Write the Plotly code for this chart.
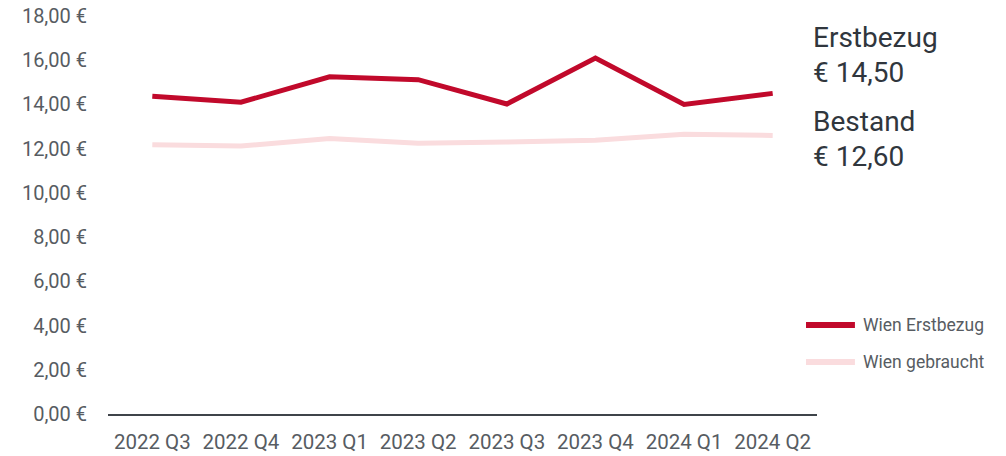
import plotly.graph_objects as go

quarters = ["2022 Q3", "2022 Q4", "2023 Q1", "2023 Q2", "2023 Q3", "2023 Q4", "2024 Q1", "2024 Q2"]
erstbezug = [14.37, 14.10, 15.25, 15.12, 14.02, 16.10, 14.00, 14.50]
gebraucht = [12.18, 12.12, 12.46, 12.25, 12.30, 12.38, 12.65, 12.60]
series_names = ["Wien Erstbezug", "Wien gebraucht"]
y_ticks = [0, 2, 4, 6, 8, 10, 12, 14, 16, 18]
y_labels = [f"{v:.2f}".replace(".", ",") + " €" for v in y_ticks]

RED = "#C1092B"
PINK = "#FADCDE"
TXT = "#575C62"
DARK = "#30363D"

fig = go.Figure()
fig.add_trace(go.Scatter(x=quarters, y=erstbezug, mode="lines", name=series_names[0],
                         line=dict(color=RED, width=5), showlegend=False))
fig.add_trace(go.Scatter(x=quarters, y=gebraucht, mode="lines", name=series_names[1],
                         line=dict(color=PINK, width=5), showlegend=False))

fig.update_layout(
    width=1006, height=456,
    margin=dict(l=108, r=189, t=16, b=42, autoexpand=False),
    paper_bgcolor="white", plot_bgcolor="white",
    font=dict(family="Roboto", size=20, color=TXT),
    showlegend=False,
)
fig.update_xaxes(type="category", range=[-0.5, 7.5], showgrid=False, zeroline=False,
                 showline=True, linecolor="#3F444A", linewidth=2, ticks="",
                 tickfont=dict(size=20.5, color=TXT), ticklabelstandoff=8,
                 automargin=False, ticklabeloverflow="allow")
fig.update_yaxes(range=[0, 18], tickvals=y_ticks, ticktext=y_labels, showgrid=False,
                 zeroline=False, showline=False, ticks="",
                 tickfont=dict(size=20, color=TXT), ticklabelstandoff=20,
                 automargin=False, ticklabeloverflow="allow")

# manual legend
leg_y = [0.2236, 0.1307]
leg_col = [RED, PINK]
for name, yy, col in zip(series_names, leg_y, leg_col):
    fig.add_shape(type="line", xref="paper", yref="paper", x0=0.9845, x1=1.0535, y0=yy, y1=yy,
                  line=dict(color=col, width=6))
    fig.add_annotation(text=name, xref="paper", yref="paper", x=1.062, y=yy,
                       xanchor="left", yanchor="middle", showarrow=False,
                       font=dict(family="Roboto", size=17.5, color=TXT))

ann = [("Erstbezug", 0.945), ("€ 14,50", 0.859), ("Bestand", 0.734), ("€ 12,60", 0.648)]
for text, yy in ann:
    fig.add_annotation(text=text, xref="paper", yref="paper", x=0.9915, y=yy,
                       xanchor="left", yanchor="middle", showarrow=False,
                       font=dict(family="Roboto", size=28, color=DARK))

fig.write_html("out.html", config={"displayModeBar": False},
               post_script="document.body.style.margin='0';document.body.style.overflow='hidden';")
